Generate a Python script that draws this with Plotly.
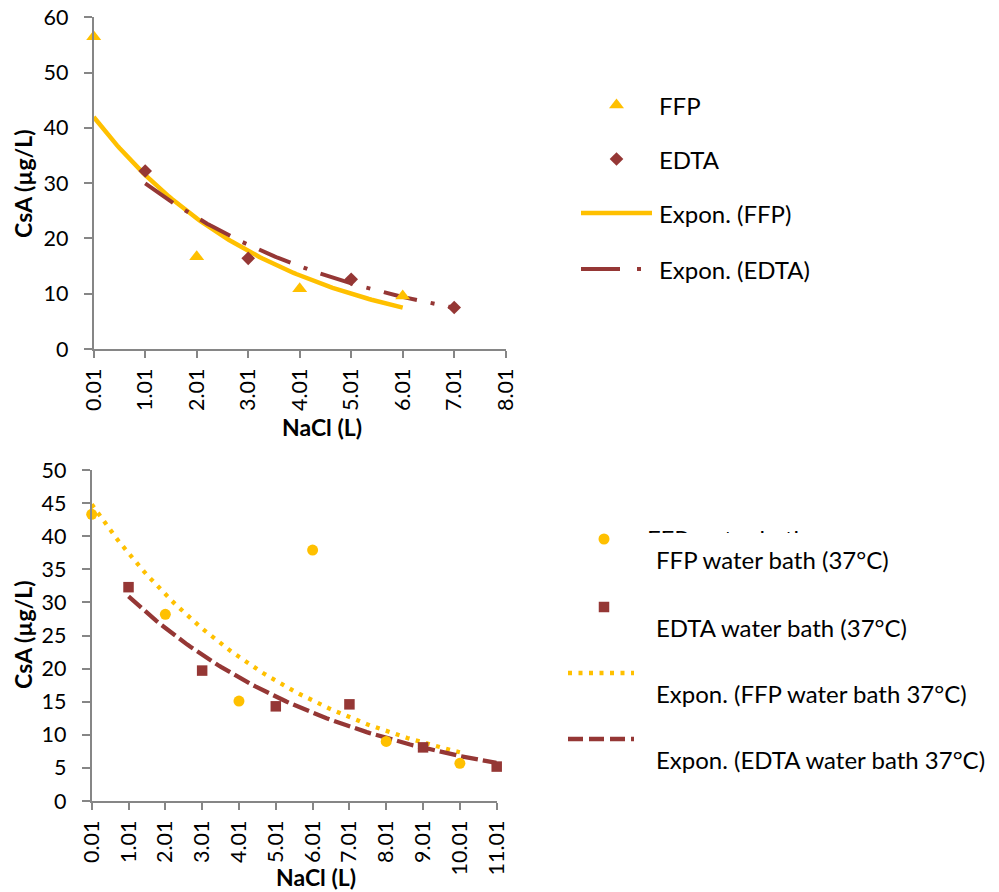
import numpy as np
import plotly.graph_objects as go

W, H = 999, 892

# ---- upper panel: NaCl volume vs CsA ----
top_ticks = [0.01 + i for i in range(9)]
top_yticks = [0, 10, 20, 30, 40, 50, 60]
ffp_x = [0.01, 2.01, 4.01, 6.01]
ffp_y = [56.5, 16.7, 10.9, 9.6]
edta_x = [1.01, 3.01, 5.01, 7.01]
edta_y = [32.2, 16.4, 12.6, 7.5]

# ---- lower panel: water bath (37°C) ----
wb_ticks = [0.01 + i for i in range(12)]
wb_yticks = [0, 5, 10, 15, 20, 25, 30, 35, 40, 45, 50]
ffp_wb_x = [0.01, 2.01, 4.01, 6.01, 8.01, 10.01]
ffp_wb_y = [43.3, 28.2, 15.1, 37.9, 9.0, 5.7]
edta_wb_x = [1.01, 3.01, 5.01, 7.01, 9.01, 11.01]
edta_wb_y = [32.3, 19.7, 14.3, 14.6, 8.1, 5.2]

top_labels = ["FFP", "EDTA", "Expon. (FFP)", "Expon. (EDTA)"]
wb_labels = ["FFP water bath (37°C)", "EDTA water bath (37°C)",
             "Expon. (FFP water bath 37°C)", "Expon. (EDTA water bath 37°C)"]

GOLD = "#FFC000"
MAROON = "#953735"
AXIS = "#868686"
FONT = "Lato, Open Sans, sans-serif"
TXT = 24
TICK = 21.5


def expon_fit(x, y, n=120):
    """Least-squares exponential trendline y = a*exp(b*x), as spreadsheet tools fit it."""
    x = np.asarray(x, float)
    b, ln_a = np.polyfit(x, np.log(np.asarray(y, float)), 1)
    xs = np.linspace(x.min(), x.max(), n)
    return xs, np.exp(ln_a) * np.exp(b * xs)


def px_x(p):
    return p / W


def px_y(p):
    return 1 - p / H


fig = go.Figure()

# upper panel traces
tx, ty = expon_fit(ffp_x, ffp_y)
fig.add_trace(go.Scatter(x=tx, y=ty, mode="lines", xaxis="x", yaxis="y",
                         line=dict(color=GOLD, width=4.5), showlegend=False, hoverinfo="skip"))
tx, ty = expon_fit(edta_x, edta_y)
fig.add_trace(go.Scatter(x=tx, y=ty, mode="lines", xaxis="x", yaxis="y",
                         line=dict(color=MAROON, width=4, dash="34px,14px,4px,14px"),
                         showlegend=False, hoverinfo="skip"))
fig.add_trace(go.Scatter(x=ffp_x, y=ffp_y, mode="markers", xaxis="x", yaxis="y", cliponaxis=False,
                         marker=dict(symbol="triangle-up", size=13, color=GOLD), showlegend=False))
fig.add_trace(go.Scatter(x=edta_x, y=edta_y, mode="markers", xaxis="x", yaxis="y", cliponaxis=False,
                         marker=dict(symbol="diamond", size=10.5, color=MAROON), showlegend=False))

# lower panel traces
tx, ty = expon_fit(ffp_wb_x, ffp_wb_y)
fig.add_trace(go.Scatter(x=tx, y=ty, mode="lines", xaxis="x2", yaxis="y2", cliponaxis=False,
                         line=dict(color=GOLD, width=4.3, dash="4px,6.5px"),
                         showlegend=False, hoverinfo="skip"))
tx, ty = expon_fit(edta_wb_x, edta_wb_y)
fig.add_trace(go.Scatter(x=tx, y=ty, mode="lines", xaxis="x2", yaxis="y2", cliponaxis=False,
                         line=dict(color=MAROON, width=4.3, dash="17px,5px"),
                         showlegend=False, hoverinfo="skip"))
fig.add_trace(go.Scatter(x=ffp_wb_x, y=ffp_wb_y, mode="markers", xaxis="x2", yaxis="y2", cliponaxis=False,
                         marker=dict(symbol="circle", size=11, color=GOLD), showlegend=False))
fig.add_trace(go.Scatter(x=edta_wb_x, y=edta_wb_y, mode="markers", xaxis="x2", yaxis="y2", cliponaxis=False,
                         marker=dict(symbol="square", size=10.5, color=MAROON), showlegend=False))


# legend keys, drawn on a pixel-unit overlay axis
def key_marker(x, y, symbol, size, color):
    fig.add_trace(go.Scatter(x=[x], y=[y], mode="markers", xaxis="x3", yaxis="y3", cliponaxis=False,
                             marker=dict(symbol=symbol, size=size, color=color),
                             showlegend=False, hoverinfo="skip"))


def key_line(x0, x1, y, color, width, dash):
    fig.add_trace(go.Scatter(x=[x0, x1], y=[y, y], mode="lines", xaxis="x3", yaxis="y3", cliponaxis=False,
                             line=dict(color=color, width=width, dash=dash),
                             showlegend=False, hoverinfo="skip"))


key_marker(616.5, 105, "triangle-up", 13, GOLD)
key_marker(616.5, 159, "diamond", 10.5, MAROON)
key_line(581, 652, 213, GOLD, 4.5, "solid")
key_line(581, 642, 269, MAROON, 4, "39px,17px,4px,14px")

key_marker(604, 539, "circle", 11, GOLD)
key_marker(604, 607, "square", 10.5, MAROON)
key_line(568, 634, 673, GOLD, 4.3, "4px,6.5px")
key_line(568, 634, 739, MAROON, 4.3, "15px,6px")

annotations = []
for lab, yy in zip(top_labels, [105, 159, 213, 269]):
    annotations.append(dict(x=657, y=yy, xref="x3", yref="y3", text=lab, showarrow=False,
                            xanchor="left", yanchor="middle", font=dict(size=TXT, color="#000")))
for lab, yy in zip(wb_labels, [559, 627, 693, 759]):
    annotations.append(dict(x=654, y=yy, xref="x3", yref="y3", text=lab, showarrow=False,
                            xanchor="left", yanchor="middle", font=dict(size=TXT, color="#000")))
# label of the first water-bath entry, mostly hidden behind the entry below
annotations.append(dict(x=645, y=522, xref="x3", yref="y3", text="FFP water bath", showarrow=False,
                        xanchor="left", yanchor="top", height=9, valign="top",
                        font=dict(size=TXT, color="#000")))

# axis titles
for txt, x, y, ang in [("NaCl (L)", 322, 427, 0), ("CsA (µg/L)", 23, 184, -90),
                       ("NaCl (L)", 316, 877, 0), ("CsA (µg/L)", 23, 635, -90)]:
    annotations.append(dict(x=x, y=y, xref="x3", yref="y3", text=f"<b>{txt}</b>", showarrow=False,
                            xanchor="center", yanchor="middle", textangle=ang,
                            font=dict(size=23, color="#000")))

common_x = dict(showgrid=False, zeroline=False, showline=True, linecolor=AXIS, linewidth=2,
                ticks="outside", ticklen=7, tickwidth=2, tickcolor=AXIS, tickangle=-90,
                tickfont=dict(size=TICK, color="#000"), ticklabelstandoff=2, automargin=False)
common_y = dict(showgrid=False, zeroline=False, showline=True, linecolor=AXIS, linewidth=2,
                ticks="outside", ticklen=8, tickwidth=2, tickcolor=AXIS,
                tickfont=dict(size=TICK, color="#000"), ticklabelstandoff=11, automargin=False)

fig.update_layout(
    width=W, height=H, margin=dict(l=0, r=0, t=0, b=0, autoexpand=False),
    paper_bgcolor="white", plot_bgcolor="rgba(0,0,0,0)",
    font=dict(family=FONT, color="#000"),
    showlegend=False,
    xaxis=dict(domain=[px_x(93.7), px_x(505.7)], anchor="y", range=[0.01, 8.01],
               tickvals=top_ticks, ticktext=[f"{v:.2f}" for v in top_ticks], **common_x),
    yaxis=dict(domain=[px_y(349), px_y(17.3)], anchor="x", range=[0, 60],
               tickvals=top_yticks, **common_y),
    xaxis2=dict(domain=[px_x(91.7), px_x(496.7)], anchor="y2", range=[0.01, 11.01],
                tickvals=wb_ticks, ticktext=[f"{v:.2f}" for v in wb_ticks], **common_x),
    yaxis2=dict(domain=[px_y(801), px_y(470)], anchor="x2", range=[0, 50],
                tickvals=wb_yticks, **common_y),
    xaxis3=dict(domain=[0, 1], anchor="y3", range=[0, W], visible=False, fixedrange=True,
                automargin=False),
    yaxis3=dict(domain=[0, 1], anchor="x3", range=[H, 0], visible=False, fixedrange=True,
                automargin=False),
    annotations=annotations,
)

fig.write_html("out.html")
